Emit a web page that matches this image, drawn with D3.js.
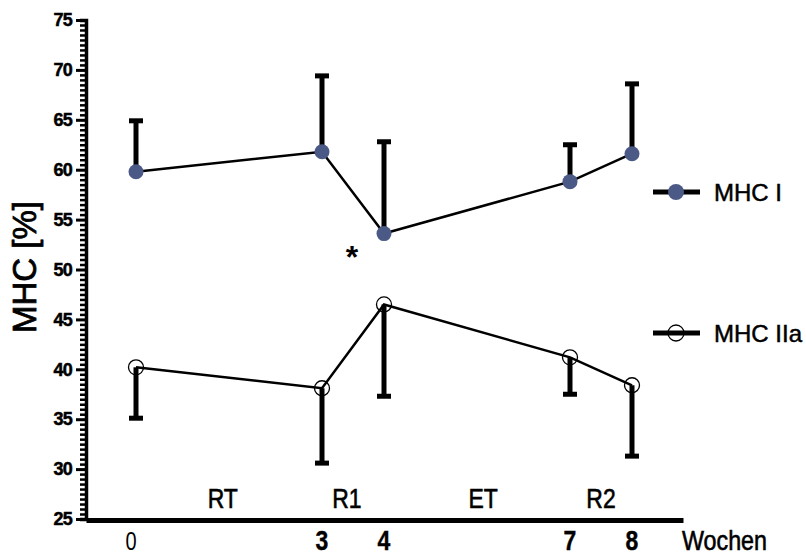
<!DOCTYPE html>
<html>
<head>
<meta charset="utf-8">
<script src="https://cdn.jsdelivr.net/npm/d3@7"></script>
<style>
  html, body { margin: 0; padding: 0; background: #fff; }
  svg { display: block; }
  text { font-family: "Liberation Sans", Arial, sans-serif; fill: #000; }
</style>
</head>
<body>
<svg id="chart" width="806" height="558"></svg>
<script>
// ---- data ----
const weeks = [0, 3, 4, 7, 8];
const weekLabels = ["0", "3", "4", "7", "8"];
const mhcI = [59.8, 61.8, 53.6, 58.8, 61.6];
const mhcIErr = [5.1, 7.6, 9.2, 3.7, 7.0];      // drawn upward
const mhcIIa = [40.2, 38.1, 46.5, 41.2, 38.4];
const mhcIIaErr = [5.1, 7.5, 9.2, 3.7, 7.1];    // drawn downward
const yTicks = [25, 30, 35, 40, 45, 50, 55, 60, 65, 70, 75];
const phases = ["RT", "R1", "ET", "R2"];
const phaseWeeks = [1.4, 3.4, 5.6, 7.5];
const seriesNames = ["MHC I", "MHC IIa"];
const sigWeek = 3.5, sigValue = 52.0;   // asterisk position

// ---- layout ----
const svg = d3.select("#chart");
const x = d3.scaleLinear().domain([0, 8]).range([136, 632]);
const y = d3.scaleLinear().domain([25, 75]).range([519, 20]);
const axisLeftX = 86, axisRightX = 683, axisY = 520;
const blue = "#4b5987";

// ---- y axis ----
const minorTicks = d3.range(25, 75.01, 0.5).filter(v => v % 5 !== 0);
const gy = svg.append("g").attr("transform", `translate(${axisLeftX},0)`);
gy.call(d3.axisLeft(y).tickValues(minorTicks).tickSize(6).tickFormat(""))
  .call(g => g.select(".domain").attr("stroke-width", 3.5))
  .call(g => g.selectAll(".tick line").attr("stroke-width", 2.5));
const gyMajor = svg.append("g").attr("transform", `translate(${axisLeftX},0)`);
gyMajor.call(d3.axisLeft(y).tickValues(yTicks).tickSize(10).tickPadding(4).tickFormat(d3.format("d")))
  .call(g => g.select(".domain").remove())
  .call(g => g.selectAll(".tick line").attr("stroke-width", 3))
  .call(g => g.selectAll(".tick text")
      .attr("font-size", 18).attr("font-weight", "bold")
      .attr("letter-spacing", "-0.8")
      .attr("stroke", "#000").attr("stroke-width", 0.5)
      .style("font-family", '"Liberation Sans", Arial, sans-serif'));

// ---- x axis ----
const xAxisScale = d3.scaleLinear()
  .domain([x.invert(axisLeftX), x.invert(axisRightX)])
  .range([axisLeftX, axisRightX]);
const gx = svg.append("g").attr("transform", `translate(0,${axisY})`);
gx.call(d3.axisBottom(xAxisScale).tickValues(weeks).tickSize(0).tickFormat(""))
  .call(g => g.select(".domain").attr("stroke-width", 5));

// x tick labels
svg.append("g").selectAll("text").data(weeks).join("text")
  .attr("transform", (d) => `translate(${d === 0 ? x(d) - 5 : x(d)},${d === 0 ? 550 : 550}) scale(${d === 0 ? 0.8 : 0.85},1)`)
  .attr("text-anchor", "middle")
  .attr("font-size", (d) => d === 0 ? 25 : 27)
  .attr("font-weight", (d) => d === 0 ? "normal" : "bold")
  .attr("stroke", "#000").attr("stroke-width", (d) => d === 0 ? 0 : 0.4)
  .text((d, i) => weekLabels[i]);

svg.append("text")
  .attr("x", 682).attr("y", 550)
  .attr("font-size", 27)
  .attr("stroke", "#000").attr("stroke-width", 0.6)
  .attr("textLength", 85).attr("lengthAdjust", "spacingAndGlyphs")
  .text("Wochen");

// phase labels
svg.append("g").selectAll("text").data(phases).join("text")
  .attr("transform", (d, i) => `translate(${x(phaseWeeks[i])},508) scale(0.85,1)`)
  .attr("text-anchor", "middle")
  .attr("font-size", 27)
  .attr("stroke", "#000").attr("stroke-width", 0.6)
  .text(d => d);

// y label
svg.append("text")
  .attr("transform", `translate(36,267) rotate(-90)`)
  .attr("text-anchor", "middle")
  .attr("font-size", 33)
  .attr("stroke", "#000").attr("stroke-width", 0.8)
  .text("MHC [%]");

// ---- series ----
const line = d3.line().x((d) => x(d[0])).y((d) => y(d[1]));
const s1 = weeks.map((w, i) => [w, mhcI[i], mhcIErr[i]]);
const s2 = weeks.map((w, i) => [w, mhcIIa[i], mhcIIaErr[i]]);

svg.append("path").datum(s1).attr("d", line)
  .attr("fill", "none").attr("stroke", "#000").attr("stroke-width", 2.5);
svg.append("path").datum(s2).attr("d", line)
  .attr("fill", "none").attr("stroke", "#000").attr("stroke-width", 2.5);

function errorBars(data, dir) {
  const g = svg.append("g");
  g.selectAll("line.bar").data(data).join("line").attr("class", "bar")
    .attr("x1", d => x(d[0])).attr("x2", d => x(d[0]))
    .attr("y1", d => y(d[1])).attr("y2", d => y(d[1] + dir * d[2]))
    .attr("stroke", "#000").attr("stroke-width", 5);
  g.selectAll("line.cap").data(data).join("line").attr("class", "cap")
    .attr("x1", d => x(d[0]) - 7).attr("x2", d => x(d[0]) + 7)
    .attr("y1", d => y(d[1] + dir * d[2])).attr("y2", d => y(d[1] + dir * d[2]))
    .attr("stroke", "#000").attr("stroke-width", 5);
}
errorBars(s1, 1);
errorBars(s2, -1);

svg.append("g").selectAll("circle").data(s1).join("circle")
  .attr("cx", d => x(d[0])).attr("cy", d => y(d[1])).attr("r", 7.5)
  .attr("fill", blue);
svg.append("g").selectAll("circle").data(s2).join("circle")
  .attr("cx", d => x(d[0])).attr("cy", d => y(d[1])).attr("r", 7.5)
  .attr("fill", "none").attr("stroke", "#000").attr("stroke-width", 1.3);

// significance asterisk
svg.append("text")
  .attr("x", x(sigWeek) - 1).attr("y", y(sigValue) + 18)
  .attr("text-anchor", "middle")
  .attr("font-size", 32).attr("font-weight", "bold")
  .text("*");

// ---- legend ----
const legendY = [192, 333];
const lg = svg.append("g");
seriesNames.forEach((name, i) => {
  const ly = legendY[i];
  lg.append("line").attr("x1", 653).attr("x2", 700).attr("y1", ly).attr("y2", ly)
    .attr("stroke", "#000").attr("stroke-width", 5);
  if (i === 0) {
    lg.append("circle").attr("cx", 676).attr("cy", ly).attr("r", 8).attr("fill", blue);
  } else {
    lg.append("circle").attr("cx", 676).attr("cy", ly).attr("r", 8)
      .attr("fill", "none").attr("stroke", "#000").attr("stroke-width", 1.3);
  }
  lg.append("text").attr("x", 714).attr("y", ly + 8.5)
    .attr("font-size", 24)
    .attr("stroke", "#000").attr("stroke-width", 0.5)
    .text(name);
});
</script>
</body>
</html>
